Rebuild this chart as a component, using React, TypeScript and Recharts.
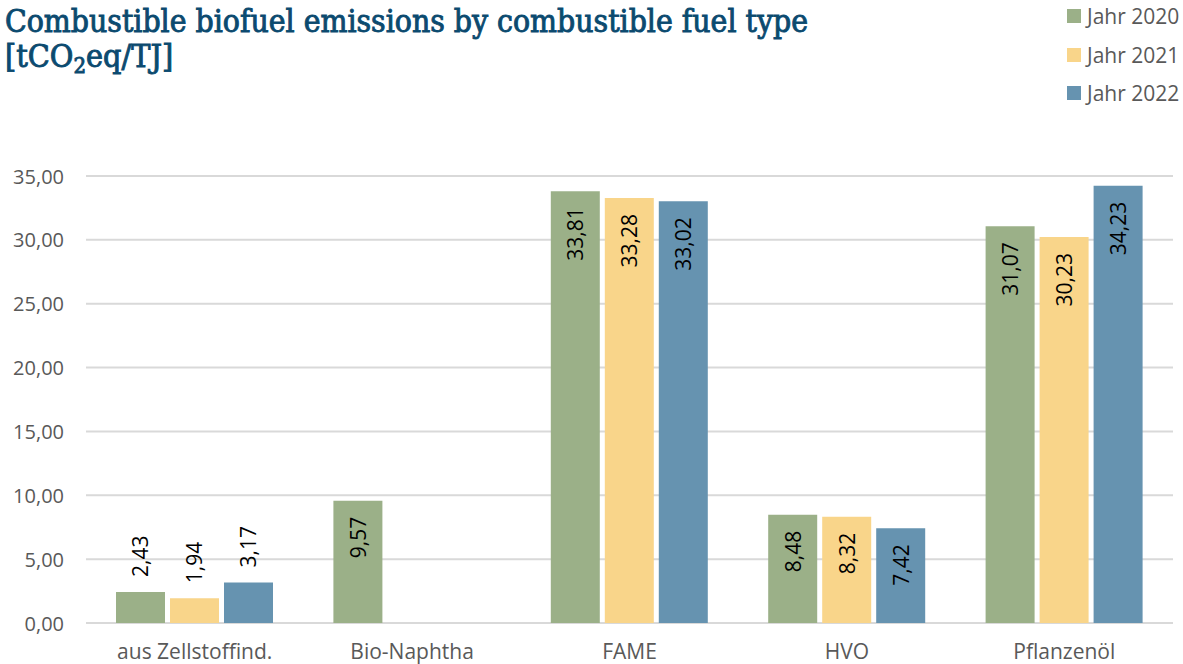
import React from 'react';
import { BarChart, Bar, XAxis, YAxis, CartesianGrid, LabelList } from 'recharts';

const categories = ['aus Zellstoffind.', 'Bio-Naphtha', 'FAME', 'HVO', 'Pflanzenöl'];
const values2020 = [2.43, 9.57, 33.81, 8.48, 31.07];
const values2021: (number | null)[] = [1.94, null, 33.28, 8.32, 30.23];
const values2022: (number | null)[] = [3.17, null, 33.02, 7.42, 34.23];
const yTicks = [0, 5, 10, 15, 20, 25, 30, 35];
const seriesNames = ['Jahr 2020', 'Jahr 2021', 'Jahr 2022'];
const seriesColors = ['#9bb088', '#f9d58a', '#6693b0'];

const data = categories.map((c, i) => ({
  name: c,
  y2020: values2020[i],
  y2021: values2021[i],
  y2022: values2022[i],
}));

const FONT = '"Open Sans", Lato, sans-serif';
const TITLE_FONT = '"DejaVu Serif Condensed", "DejaVu Serif", serif';
const TITLE_COLOR = '#0b4a6f';
const fmt = (v: number) => v.toFixed(2).replace('.', ',');

const renderLabel = (props: any) => {
  const { x, y, width, value } = props;
  if (value === null || value === undefined) return null;
  const cx = Number(x) + Number(width) / 2;
  const inside = value >= 5;
  const ay = inside ? Number(y) + 16 : Number(y) - 15;
  return (
    <text
      x={cx}
      y={ay}
      transform={`rotate(-90, ${cx}, ${ay})`}
      textAnchor={inside ? 'end' : 'start'}
      dominantBaseline="central"
      fontFamily={FONT}
      fontSize={21}
      fill="#000"
    >
      {fmt(value)}
    </text>
  );
};

const XTick = (props: any) => {
  const { x, payload } = props;
  return (
    <text x={x} y={659} textAnchor="middle" fontFamily={FONT} fontSize={21} fill="#595959">
      {payload.value}
    </text>
  );
};

const YTick = (props: any) => {
  const { y, payload } = props;
  return (
    <text x={64} y={y} textAnchor="end" dominantBaseline="central" fontFamily={FONT} fontSize={20} fill="#595959">
      {fmt(payload.value)}
    </text>
  );
};

export default function App() {
  return (
    <div style={{ position: 'absolute', left: 0, top: 0, width: 1183, height: 664, background: '#fff', overflow: 'hidden' }}>
      <BarChart
        width={1183}
        height={664}
        data={data}
        margin={{ top: 176, right: 10, bottom: 0, left: 0 }}
        barCategoryGap={30}
        barGap={5}
        style={{ position: 'absolute', left: 0, top: 0 }}
      >
        <CartesianGrid vertical={false} stroke="#d9d9d9" strokeWidth={2} />
        <XAxis dataKey="name" height={41} axisLine={false} tickLine={false} tick={<XTick />} interval={0} />
        <YAxis width={86} domain={[0, 35]} ticks={yTicks} axisLine={false} tickLine={false} tick={<YTick />} interval={0} />
        <Bar dataKey="y2020" name={seriesNames[0]} fill={seriesColors[0]} isAnimationActive={false}>
          <LabelList dataKey="y2020" content={renderLabel} />
        </Bar>
        <Bar dataKey="y2021" name={seriesNames[1]} fill={seriesColors[1]} isAnimationActive={false}>
          <LabelList dataKey="y2021" content={renderLabel} />
        </Bar>
        <Bar dataKey="y2022" name={seriesNames[2]} fill={seriesColors[2]} isAnimationActive={false}>
          <LabelList dataKey="y2022" content={renderLabel} />
        </Bar>
      </BarChart>
      <svg width={830} height={85} style={{ position: 'absolute', left: 0, top: 0 }}>
        <text x={5} y={32} fontFamily={TITLE_FONT} fontWeight="normal" fontSize={32} fill={TITLE_COLOR} stroke={TITLE_COLOR} strokeWidth={0.9} textLength={803} lengthAdjust="spacingAndGlyphs">
          Combustible biofuel emissions by combustible fuel type
        </text>
        <text x={5} y={67} fontFamily={TITLE_FONT} fontWeight="normal" fontSize={32} fill={TITLE_COLOR} stroke={TITLE_COLOR} strokeWidth={0.9}>
          <tspan>[tCO</tspan>
          <tspan fontSize={22} dy={6}>2</tspan>
          <tspan dy={-6}>eq/TJ]</tspan>
        </text>
      </svg>
      <div style={{ position: 'absolute', left: 1067, top: 0, width: 116, height: 110 }}>
        {seriesNames.map((n, i) => (
          <div key={n} style={{ position: 'absolute', left: 0, top: 16 + i * 38.5 - 15, height: 30, display: 'flex', alignItems: 'center' }}>
            <div style={{ width: 14, height: 14, background: seriesColors[i], marginRight: 6 }} />
            <span style={{ fontFamily: FONT, fontSize: 21, color: '#595959', whiteSpace: 'nowrap' }}>{n}</span>
          </div>
        ))}
      </div>
    </div>
  );
}
